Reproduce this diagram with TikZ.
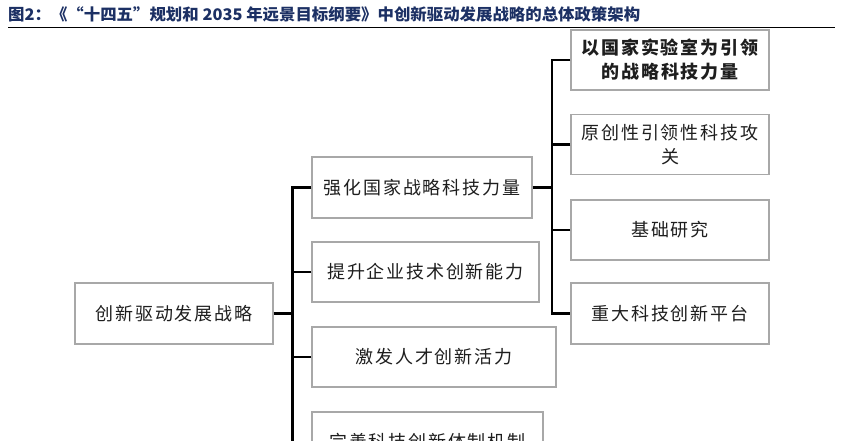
\documentclass[tikz,border=0pt]{standalone}
\usepackage{fontspec}
\usepackage{graphicx}
\newfontfamily\cjk[LetterSpace=10]{Noto Sans CJK SC}
\newfontfamily\cjktitle{Noto Sans CJK SC}
\definecolor{titleblue}{RGB}{28,48,100}
\definecolor{boxgray}{RGB}{168,168,168}
\definecolor{txt}{RGB}{30,30,30}
\begin{document}
\begin{tikzpicture}[x=1pt,y=-1pt,
  box/.style={draw=boxgray, line width=1.4pt, fill=white, minimum height=60pt,
    inner sep=0pt, align=center, font=\cjk\fontsize{18}{24}\selectfont, text=txt},
  conn/.style={line width=2.2pt, black}]
\useasboundingbox (0,0) rectangle (843,440);
\clip (0,0) rectangle (843,440);
% title
\node[anchor=west, inner sep=0pt, text=titleblue] (title) at (8,14)
  {\resizebox{632pt}{\height}{\cjktitle\bfseries\fontsize{16}{16}\selectfont 图2：《“十四五”规划和 2035 年远景目标纲要》中创新驱动发展战略的总体政策架构}};
\draw[line width=1pt, black] (8,27) coordinate (r1) -- (835,27) coordinate (r2);
% boxes
\node[box, minimum width=198pt, minimum height=61pt] (root) at (174,313.5) {创新驱动发展战略};
\node[box, minimum width=220pt, minimum height=61pt] (l21) at (422,187.5) {强化国家战略科技力量};
\node[box, minimum width=227pt] (l22) at (425.5,272) {提升企业技术创新能力};
\node[box, minimum width=244pt] (l23) at (434,357) {激发人才创新活力};
\node[box, minimum width=231pt] (l24) at (427.5,442) {完善科技创新体制机制};
\node[box, minimum width=198pt, font=\cjk\bfseries\fontsize{18}{24}\selectfont] (l3a) at (670,60) {以国家实验室为引领\\的战略科技力量};
\node[box, minimum width=198pt] (l3b) at (670,144.5) {原创性引领性科技攻\\关};
\node[box, minimum width=198pt] (l3c) at (670,230) {基础研究};
\node[box, minimum width=198pt, minimum height=61pt] (l3d) at (670,313.5) {重大科技创新平台};
% connectors
\coordinate (t) at (292.5,0);
\coordinate (s) at (552,0);
\draw[conn] (root.east) -- (root.east -| t);
\draw[conn] (l21.west) -- (l21.west -| t) -- (l24.west -| t) -- (l24.west);
\draw[conn] (l22.west) -- (l22.west -| t);
\draw[conn] (l23.west) -- (l23.west -| t);
\draw[conn] (l21.east) -- (l21.east -| s);
\draw[conn] (l3a.west) -- (l3a.west -| s) -- (l3d.west -| s) -- (l3d.west);
\draw[conn] (l3b.west) -- (l3b.west -| s);
\draw[conn] (l3c.west) -- (l3c.west -| s);
\end{tikzpicture}
\end{document}
